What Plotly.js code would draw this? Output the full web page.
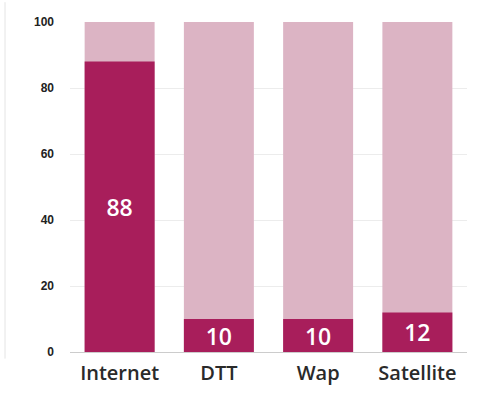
<!DOCTYPE html>
<html><head><meta charset="utf-8">
<script src="https://cdn.plot.ly/plotly-3.0.1.min.js"></script>
<style>html,body{margin:0;padding:0;background:#fff;}</style>
</head><body>
<div id="chart" style="width:484px;height:394px;"></div>
<script>
const categories = ["Internet", "DTT", "Wap", "Satellite"];
const values = [88, 10, 10, 12];
const totals = [100, 100, 100, 100];
const yTicks = [0, 20, 40, 60, 80, 100];

const data = [
  {type: 'bar', x: categories, y: totals, marker: {color: '#dcb4c4'}, hoverinfo: 'skip', showlegend: false},
  {type: 'bar', x: categories, y: values, marker: {color: '#a81e5b'},
   text: values.map(String), textposition: 'inside', insidetextanchor: 'middle', textangle: 0,
   textfont: {color: '#ffffff', size: 23, family: 'Open Sans, sans-serif', weight: 600},
   constraintext: 'none', showlegend: false}
];
const layout = {
  width: 484, height: 394,
  margin: {l: 70, r: 17, t: 22, b: 42},
  barmode: 'overlay', bargap: 0.295,
  paper_bgcolor: '#ffffff', plot_bgcolor: '#ffffff',
  xaxis: {tickfont: {size: 20, color: '#2a2a2a', family: 'Open Sans, sans-serif', weight: 600}, ticks: '', ticklabelstandoff: 7, showline: false},
  yaxis: {range: [0, 100], tickvals: yTicks, ticktext: yTicks.map(String), showgrid: true, gridcolor: '#ececec', gridwidth: 1,
          zeroline: true, zerolinecolor: '#cccccc', zerolinewidth: 1,
          tickfont: {size: 12, color: '#222', family: 'Liberation Sans, sans-serif', weight: 'bold'}, ticklabelstandoff: 15, ticks: ''},
  shapes: [{type: 'line', xref: 'paper', yref: 'paper', x0: -65/397, x1: -65/397, y0: -0.02, y1: 1.06, line: {width: 1, color: '#e4e4e4'}}]
};
Plotly.newPlot('chart', data, layout, {displayModeBar: false, staticPlot: true});
</script>
</body></html>
